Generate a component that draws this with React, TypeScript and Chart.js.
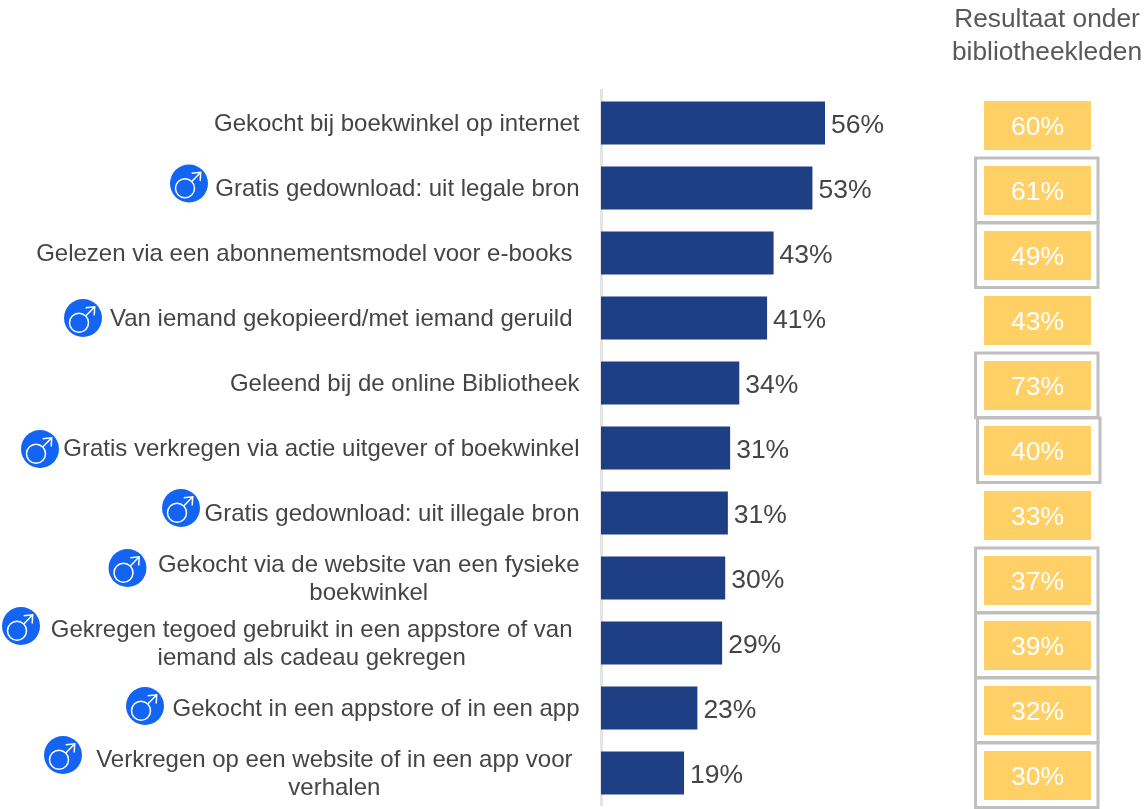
import React, { useEffect, useRef } from "react";
import { Chart, registerables } from "chart.js";

Chart.register(...registerables);

// --- data ---
const categories: string[][] = [
  ["Gekocht bij boekwinkel op internet"],
  ["Gratis gedownload: uit legale bron"],
  ["Gelezen via een abonnementsmodel voor e-books"],
  ["Van iemand gekopieerd/met iemand geruild"],
  ["Geleend bij de online Bibliotheek"],
  ["Gratis verkregen via actie uitgever of boekwinkel"],
  ["Gratis gedownload: uit illegale bron"],
  ["Gekocht via de website van een fysieke", "boekwinkel"],
  ["Gekregen tegoed gebruikt in een appstore of van", "iemand als cadeau gekregen"],
  ["Gekocht in een appstore of in een app"],
  ["Verkregen op een website of in een app voor", "verhalen"],
];
const totalValues = [56, 52.7, 42.5, 40.8, 33.5, 31.1, 30.5, 29.8, 29, 22.5, 19];
const memberValues = [60, 61, 49, 43, 73, 40, 33, 37, 39, 32, 30];
const memberTitle = ["Resultaat onder", "bibliotheekleden"];
const framedRows = [1, 2, 4, 5, 7, 8, 9, 10];
const maleRows = [1, 3, 5, 6, 7, 8, 9, 10];

// --- layout (not data) ---
const FONT = '"Liberation Sans", Arial, sans-serif';
const TEXT = "#454545";
const BLUE = "#1F3F85";
const YELLOW = "#FFD066";
const FRAME = "#BFBFBF";
const ICON = "#1464F4";
const insetLabels = new Set([2, 3, 8, 10]);
const iconPos: Record<number, { x: number; dy: number }> = {
  1: { x: 189, dy: -4.5 },
  3: { x: 83, dy: 0 },
  5: { x: 40, dy: 1 },
  6: { x: 181, dy: -5 },
  7: { x: 127.5, dy: -10 },
  8: { x: 21, dy: -17 },
  9: { x: 145, dy: -2 },
  10: { x: 63, dy: -18 },
};

function drawMale(ctx: CanvasRenderingContext2D, cx: number, cy: number) {
  ctx.save();
  ctx.fillStyle = ICON;
  ctx.beginPath();
  ctx.arc(cx, cy, 19, 0, Math.PI * 2);
  ctx.fill();
  ctx.strokeStyle = "#FFFFFF";
  ctx.lineWidth = 1.5;
  ctx.beginPath();
  ctx.arc(cx - 4, cy + 4.8, 9.5, 0, Math.PI * 2);
  ctx.stroke();
  ctx.beginPath();
  ctx.moveTo(cx + 2.8, cy - 2);
  ctx.lineTo(cx + 11.7, cy - 11.2);
  ctx.moveTo(cx + 2.7, cy - 10.2);
  ctx.lineTo(cx + 11.7, cy - 11.2);
  ctx.lineTo(cx + 11.2, cy - 2.5);
  ctx.stroke();
  ctx.restore();
}

const columnPlugin = {
  id: "memberColumn",
  // place the member bars in their own fixed-width column on the right
  afterDatasetsUpdate(chart: any) {
    const meta = chart.getDatasetMeta(1);
    meta.data.forEach((el: any) => {
      el.base = 984;
      el.x = 1091;
      el.y = el.y + 2.5;
    });
  },
  afterDatasetsDraw(chart: any) {
    const ctx: CanvasRenderingContext2D = chart.ctx;
    const yScale = chart.scales.y;
    const bars = chart.getDatasetMeta(0).data;
    ctx.save();
    ctx.textBaseline = "middle";

    // category labels
    ctx.fillStyle = TEXT;
    ctx.font = `24px ${FONT}`;
    categories.forEach((lines, i) => {
      const cy = yScale.getPixelForValue(i) + 1;
      const right = insetLabels.has(i) ? 572.5 : 579.5;
      if (lines.length === 1) {
        ctx.textAlign = "right";
        ctx.fillText(lines[0], right, cy);
      } else {
        const maxW = Math.max(...lines.map((l) => ctx.measureText(l).width));
        ctx.textAlign = "center";
        lines.forEach((l, k) => ctx.fillText(l, right - maxW / 2, cy - 14 + k * 28));
      }
    });

    // value labels
    ctx.font = `26.5px ${FONT}`;
    ctx.textAlign = "left";
    totalValues.forEach((v, i) => {
      ctx.fillStyle = TEXT;
      ctx.fillText(`${Math.round(v)}%`, bars[i].x + 6, bars[i].y + 3);
    });

    // member values
    ctx.textAlign = "center";
    ctx.fillStyle = "#FFFFFF";
    memberValues.forEach((v, i) => {
      ctx.fillText(`${v}%`, 1037.5, yScale.getPixelForValue(i) + 4.5);
    });

    // significance frames
    ctx.strokeStyle = FRAME;
    ctx.lineWidth = 3;
    framedRows.forEach((i) => {
      const cy = yScale.getPixelForValue(i);
      const dx = i === 5 ? 2 : 0;
      ctx.strokeRect(975.5 + dx, cy - 30, 122.5, 64.5);
    });

    // title
    ctx.fillStyle = "#595959";
    ctx.font = `26.3px ${FONT}`;
    memberTitle.forEach((t, k) => ctx.fillText(t, 1047, 20 + k * 33));

    // male icons
    maleRows.forEach((i) => {
      const p = iconPos[i];
      drawMale(ctx, p.x, yScale.getPixelForValue(i) + p.dy);
    });
    ctx.restore();
  },
};

export default function App() {
  const ref = useRef<HTMLCanvasElement>(null);
  useEffect(() => {
    const chart = new Chart(ref.current as HTMLCanvasElement, {
      type: "bar",
      data: {
        labels: categories.map((c) => c.join(" ")),
        datasets: [
          {
            label: "Totaal",
            data: totalValues,
            backgroundColor: BLUE,
            xAxisID: "x",
            base: -2.8,
            grouped: false,
            categoryPercentage: 1,
            barPercentage: 43 / 65,
          },
          {
            label: memberTitle.join(" "),
            data: memberValues,
            backgroundColor: YELLOW,
            xAxisID: "x",
            base: -2.8,
            grouped: false,
            categoryPercentage: 1,
            barPercentage: 49 / 65,
          },
        ],
      } as any,
      options: {
        indexAxis: "y",
        responsive: false,
        animation: false,
        layout: { padding: { left: 601, top: 90.5, right: 0, bottom: 3.5 } },
        plugins: {
          legend: { display: false },
          title: { display: false },
          tooltip: { enabled: false },
        },
        scales: {
          x: { display: false, min: -2.8, max: 140, grid: { display: false } },
          y: {
            offset: true,
            ticks: { display: false },
            grid: { display: false, drawTicks: false },
            border: { color: "#E4E4E4", width: 3 },
          },
        },
      } as any,
      plugins: [columnPlugin],
    });
    return () => chart.destroy();
  }, []);
  return (
    <div style={{ position: "fixed", left: 0, top: 0 }}>
      <canvas ref={ref} width={1145} height={809} style={{ display: "block" }} />
    </div>
  );
}
